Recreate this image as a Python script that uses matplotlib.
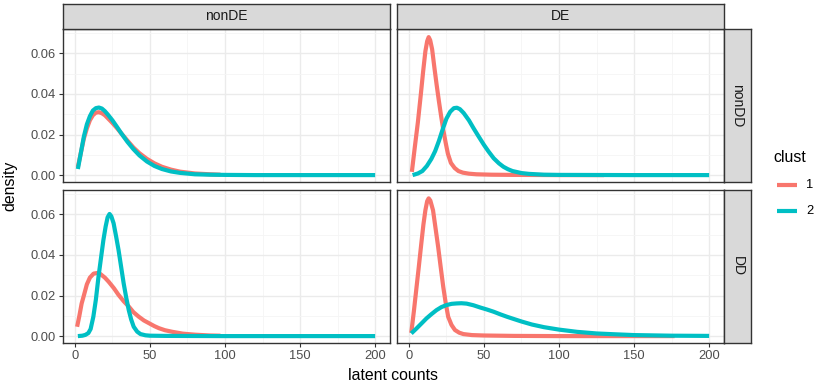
import numpy as np
import matplotlib.pyplot as plt
from matplotlib.ticker import MultipleLocator

plt.rcParams['font.family'] = ['Liberation Sans', 'DejaVu Sans']

cols = ['nonDE', 'DE']
rows = ['nonDD', 'DD']
clust_colors = {'1': '#F8766D', '2': '#00BFC4'}

# nonDE / nonDD
x_nn_1 = [2, 4, 6, 8, 10, 12, 14, 16, 18, 20, 22, 25, 28, 31, 35, 39, 43, 48,
          53, 58, 64, 70, 80, 90, 97]
y_nn_1 = [0.004, 0.011, 0.018, 0.023, 0.027, 0.0295, 0.0308, 0.031, 0.0305, 0.0295,
          0.028, 0.0257, 0.0232, 0.0205, 0.017, 0.0136, 0.0108, 0.008,
          0.0058, 0.0041, 0.0027, 0.0017, 0.0008, 0.0004, 0.0002]
x_nn_2 = [2, 4, 6, 8, 10, 12, 14, 16, 18, 20, 22, 25, 28, 31, 35, 39, 43, 48,
          53, 58, 64, 70, 80, 90, 100, 120, 150, 200]
y_nn_2 = [0.003, 0.011, 0.019, 0.025, 0.029, 0.0318, 0.0330, 0.0333, 0.0328, 0.0315,
          0.0298, 0.027, 0.0238, 0.0205, 0.0164, 0.0128, 0.0097, 0.0067,
          0.0045, 0.003, 0.0018, 0.0011, 0.0004, 0.0002, 0.0001, 0.0, 0.0, 0.0]

# DE / nonDD
x_dn_1 = [2, 4, 6, 8, 9.5, 11, 12.2, 13.2, 14.2, 15.5, 17, 18.5, 20, 21.5, 23, 24.5,
          26, 28, 30.5, 33, 36, 40, 45, 55, 70, 100, 130]
y_dn_1 = [0.0016, 0.014, 0.026, 0.040, 0.051, 0.061, 0.066, 0.068, 0.0665, 0.062,
          0.053, 0.0445, 0.0365, 0.029, 0.022, 0.016, 0.0105, 0.006, 0.0035, 0.002,
          0.0012, 0.0007, 0.0004, 0.0002, 0.0001, 0.0, 0.0]
x_dn_2 = [2.5, 6, 9, 12, 15, 17.5, 20, 22.5, 25, 27.5, 30, 32, 34, 36.5, 40, 43,
          46.5, 50, 53, 56.5, 60, 63, 66, 69, 75, 80, 90, 100, 150, 200]
y_dn_2 = [0.0, 0.0008, 0.002, 0.0045, 0.008, 0.0118, 0.0168, 0.0225, 0.0278, 0.0312,
          0.033, 0.0332, 0.0325, 0.0306, 0.027, 0.0232, 0.019, 0.0149, 0.0117, 0.0083,
          0.0058, 0.0041, 0.0029, 0.002, 0.001, 0.0006, 0.0002, 0.0001, 0.0, 0.0]

# nonDE / DD
x_nd_1 = [1.5, 3, 4.5, 6, 8, 10, 12.5, 15, 17, 20, 22.5, 26, 29, 32.5, 36, 39, 42.5,
          46, 49.5, 53, 56, 60, 65, 72, 80, 90, 97]
y_nd_1 = [0.0046, 0.010, 0.016, 0.020, 0.0255, 0.0288, 0.0308, 0.0311, 0.0306,
          0.0288, 0.0268, 0.0236, 0.0204, 0.0172, 0.0145, 0.0118, 0.0096, 0.0077,
          0.0063, 0.0049, 0.0039, 0.0029, 0.0021, 0.0012, 0.0007, 0.0003, 0.0002]
x_nd_2 = [2, 5, 7, 9, 10.5, 12.3, 14, 15.7, 17.5, 19, 20.5, 21.8, 23.1, 24.3, 25.8,
          27.5, 29.1, 30.8, 32.5, 34.2, 35.9, 37.5, 39.2, 41.5, 43.7, 47, 50, 60,
          100, 200]
y_nd_2 = [0.0, 0.0002, 0.0006, 0.0015, 0.0035, 0.0095, 0.018, 0.029, 0.039,
          0.0473, 0.054, 0.0585, 0.0602, 0.059, 0.0556, 0.049, 0.0424, 0.0342,
          0.026, 0.019, 0.0128, 0.0082, 0.0046, 0.0022, 0.001, 0.0004, 0.0002,
          0.0001, 0.0, 0.0]

# DE / DD
x_dd_1 = [1.6, 3.3, 4.9, 6.6, 8.3, 9.7, 11, 12.2, 13.2, 14.3, 16.1, 17.8, 19.5,
          21.2, 22.9, 24.5, 26.2, 28.4, 30.7, 33.5, 36.3, 42, 50, 70, 100, 140, 177]
y_dd_1 = [0.0016, 0.012, 0.0227, 0.034, 0.0457, 0.055, 0.062, 0.0665, 0.0679,
          0.0668, 0.062, 0.053, 0.044, 0.034, 0.0243, 0.0165, 0.0095, 0.0055,
          0.003, 0.0017, 0.001, 0.0005, 0.0003, 0.0001, 0.0, 0.0, 0.0]
x_dd_2 = [1.6, 5, 8.5, 11.7, 15, 18.4, 21.7, 25.1, 28.5, 31.8, 35, 38.5, 43, 47.5,
          52, 56.5, 61, 65.5, 70, 75, 82, 90, 100, 112, 125, 137, 150, 175, 200]
y_dd_2 = [0.0013, 0.0037, 0.0063, 0.0087, 0.0108, 0.0128, 0.0143, 0.0153, 0.0159,
          0.0161, 0.0162, 0.016, 0.0152, 0.0141, 0.0131, 0.012, 0.0107, 0.0095,
          0.0084, 0.0072, 0.0057, 0.0044, 0.0032, 0.0021, 0.0013, 0.0009, 0.0005,
          0.0002, 0.0001]

data = {
    ('nonDD', 'nonDE'): [(x_nn_1, y_nn_1), (x_nn_2, y_nn_2)],
    ('nonDD', 'DE'): [(x_dn_1, y_dn_1), (x_dn_2, y_dn_2)],
    ('DD', 'nonDE'): [(x_nd_1, y_nd_1), (x_nd_2, y_nd_2)],
    ('DD', 'DE'): [(x_dd_1, y_dd_1), (x_dd_2, y_dd_2)],
}

W, H = 817, 388
fig = plt.figure(figsize=(W / 100, H / 100), dpi=100)

def px(x0, y0, x1, y1):
    return [x0 / W, 1 - y1 / H, (x1 - x0) / W, (y1 - y0) / H]

col_x = [(63, 390), (397, 724)]
row_y = [(29, 182), (190, 343)]
border = '#333333'
grid_major = '#EBEBEB'
LW = 3.0

for ri, r in enumerate(rows):
    for ci, c in enumerate(cols):
        x0, x1 = col_x[ci]
        y0, y1 = row_y[ri]
        ax = fig.add_axes(px(x0, y0, x1, y1))
        for (xs, ys), key in zip(data[(r, c)], ['1', '2']):
            ax.plot(xs, ys, color=clust_colors[key], lw=LW, solid_capstyle='butt',
                    solid_joinstyle='round')
        ax.set_xlim(2 - 9.9, 200 + 9.9)
        ax.set_ylim(-0.0034, 0.0720)
        ax.xaxis.set_major_locator(MultipleLocator(50))
        ax.xaxis.set_minor_locator(MultipleLocator(25))
        ax.yaxis.set_major_locator(MultipleLocator(0.02))
        ax.yaxis.set_minor_locator(MultipleLocator(0.01))
        ax.grid(which='major', color=grid_major, lw=1.0)
        ax.grid(which='minor', color='#F5F5F5', lw=0.6)
        ax.set_axisbelow(True)
        for s in ax.spines.values():
            s.set_color(border)
            s.set_linewidth(1.0)
        ax.tick_params(which='minor', length=0)
        ax.tick_params(which='major', length=3, width=0.8, color=border,
                       labelsize=9.3, labelcolor='#4D4D4D', pad=2)
        if ci == 0:
            ax.yaxis.set_major_formatter(plt.FuncFormatter(lambda v, p: f'{v:.2f}'))
        else:
            ax.tick_params(axis='y', which='major', left=False, labelleft=False)
        if ri == 1:
            ax.xaxis.set_major_formatter(plt.FuncFormatter(lambda v, p: f'{v:.0f}'))
        else:
            ax.tick_params(axis='x', which='major', bottom=False, labelbottom=False)

# column strips
for ci, c in enumerate(cols):
    x0, x1 = col_x[ci]
    sax = fig.add_axes(px(x0, 4, x1, 29))
    sax.set_facecolor('#D9D9D9')
    sax.set_xticks([]); sax.set_yticks([])
    for s in sax.spines.values():
        s.set_color(border); s.set_linewidth(1.0)
    sax.text(0.5, 0.5, c, ha='center', va='center', fontsize=10, color='#1A1A1A',
             transform=sax.transAxes)

# row strips
for ri, r in enumerate(rows):
    y0, y1 = row_y[ri]
    sax = fig.add_axes(px(724, y0, 751, y1))
    sax.set_facecolor('#D9D9D9')
    sax.set_xticks([]); sax.set_yticks([])
    for s in sax.spines.values():
        s.set_color(border); s.set_linewidth(1.0)
    sax.text(0.5, 0.5, r, ha='center', va='center', fontsize=10, color='#1A1A1A',
             rotation=-90, transform=sax.transAxes)

fig.text(393 / W, 1 - 376 / H, 'latent counts', ha='center', va='center',
         fontsize=11.4, color='black')
fig.text(10 / W, 1 - 186 / H, 'density', ha='center', va='center',
         rotation=90, fontsize=11.4, color='black')

# legend
fig.text(773 / W, 1 - 158 / H, 'clust', ha='left', va='center', fontsize=11.4)
for key, yy in zip(['1', '2'], [185, 211]):
    fig.add_artist(plt.Line2D([777 / W, 797 / W], [1 - yy / H, 1 - yy / H],
                              color=clust_colors[key], lw=LW, solid_capstyle='butt'))
    fig.text(806 / W, 1 - yy / H, key, ha='left', va='center', fontsize=9.3)

fig.savefig('out.png', dpi=100)
